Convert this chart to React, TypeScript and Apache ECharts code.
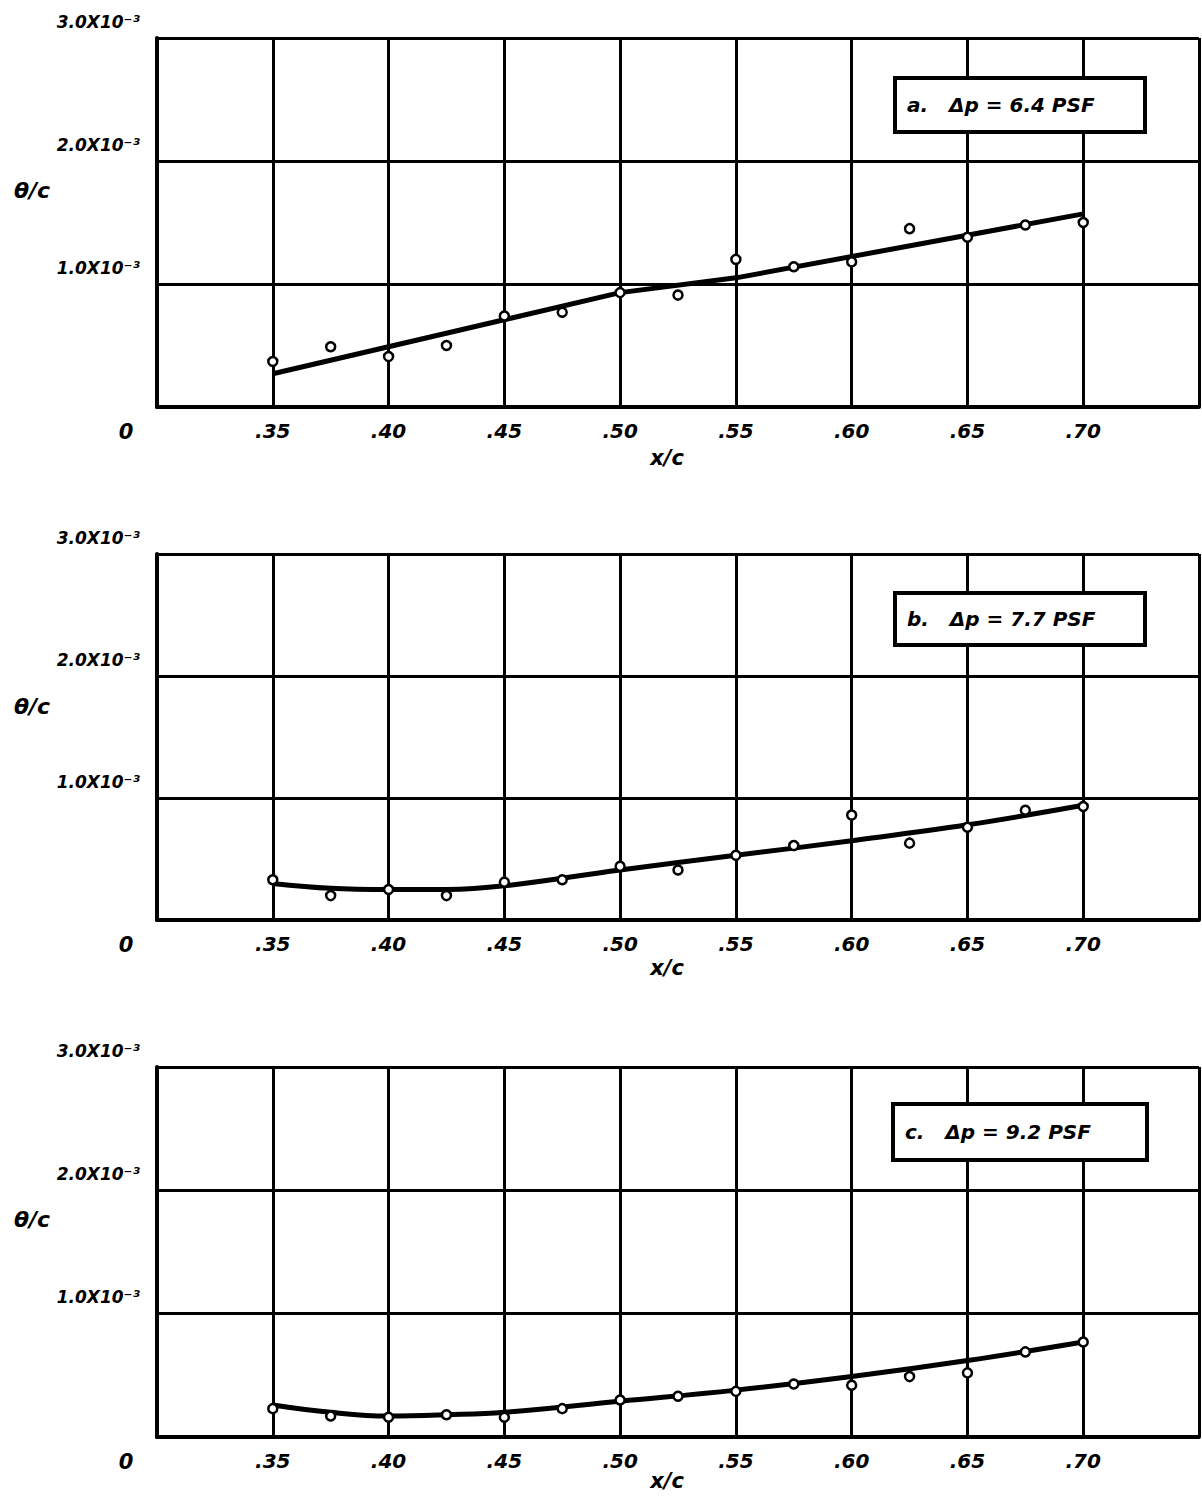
import React, { useEffect, useRef } from "react";
import * as echarts from "echarts";

// x/c stations of the measured points
const xStations = [0.35, 0.375, 0.4, 0.425, 0.45, 0.475, 0.5, 0.525, 0.55, 0.575, 0.6, 0.625, 0.65, 0.675, 0.7];
// theta/c measured (units of 10^-3)
const obsA = [0.37, 0.49, 0.41, 0.5, 0.74, 0.77, 0.93, 0.91, 1.2, 1.14, 1.18, 1.45, 1.38, 1.48, 1.5];
const obsB = [0.33, 0.2, 0.25, 0.2, 0.31, 0.33, 0.44, 0.41, 0.53, 0.61, 0.86, 0.63, 0.76, 0.9, 0.93];
const obsC = [0.23, 0.17, 0.16, 0.18, 0.16, 0.23, 0.3, 0.33, 0.37, 0.43, 0.42, 0.49, 0.52, 0.69, 0.77];

// faired curves
const fitAX = [0.35, 0.5, 0.55, 0.7];
const fitA = [0.27, 0.93, 1.05, 1.57];
const fitX = [0.35, 0.375, 0.4, 0.425, 0.45, 0.5, 0.55, 0.6, 0.65, 0.7];
const fitB = [0.3, 0.26, 0.25, 0.25, 0.28, 0.41, 0.53, 0.65, 0.78, 0.94];
const fitC = [0.26, 0.2, 0.17, 0.18, 0.2, 0.29, 0.38, 0.49, 0.62, 0.77];

const panelLabels = ["a.   \u0394p = 6.4 PSF", "b.   \u0394p = 7.7 PSF", "c.   \u0394p = 9.2 PSF"];
const yTickLabels = ["", "1.0X10\u207B\u00B3", "2.0X10\u207B\u00B3", "3.0X10\u207B\u00B3"];

const FONT = "DejaVu Sans";

export default function App() {
  const ref = useRef<HTMLDivElement>(null);
  useEffect(() => {
    const chart = echarts.init(ref.current!, undefined, { renderer: "svg" });
    const grids = [
      { top: 38, height: 369, xl: 51 },
      { top: 554, height: 366, xl: 48 },
      { top: 1067, height: 370, xl: 44 },
    ];
    const obs = [obsA, obsB, obsC];
    const fits = [
      fitAX.map((x, i) => [x, fitA[i]]),
      fitX.map((x, i) => [x, fitB[i]]),
      fitX.map((x, i) => [x, fitC[i]]),
    ];
    const lineStyle = { color: "#000", width: 3 };
    const textBase = { fontFamily: FONT, fontStyle: "italic", fontWeight: "bold", color: "#000" };

    const graphic: any[] = [];
    const boxes = [
      { x: 895, y: 78, w: 250, h: 54 },
      { x: 895, y: 593, w: 250, h: 52 },
      { x: 893, y: 1104, w: 254, h: 56 },
    ];
    grids.forEach((g, i) => {
      const b = boxes[i];
      graphic.push({
        type: "rect",
        shape: { x: b.x, y: b.y, width: b.w, height: b.h },
        style: { fill: "#fff", stroke: "#000", lineWidth: 4 },
        z: 100,
      });
      graphic.push({
        type: "text",
        x: b.x + 12,
        y: b.y + b.h / 2,
        style: {
          text: panelLabels[i],
          font: `italic bold 20px "${FONT}"`,
          fill: "#000",
          verticalAlign: "middle",
        },
        z: 101,
      });
      const bottom = g.top + g.height;
      graphic.push({
        type: "text",
        x: 126,
        y: bottom + 25,
        style: { text: "0", font: `italic bold 21px "${FONT}"`, fill: "#000", align: "center", verticalAlign: "middle" },
      });
      graphic.push({
        type: "text",
        x: 667,
        y: bottom + g.xl,
        style: { text: "x/c", font: `italic bold 21px "${FONT}"`, fill: "#000", align: "center", verticalAlign: "middle" },
      });
      graphic.push({
        type: "text",
        x: 32,
        y: g.top + 152,
        style: { text: "\u03B8/c", font: `italic bold 22px "${FONT}"`, fill: "#000", align: "center", verticalAlign: "middle" },
      });
    });

    chart.setOption({
      animation: false,
      backgroundColor: "#fff",
      grid: grids.map((g) => ({ left: 157, right: 1, top: g.top, height: g.height })),
      xAxis: grids.map((_, i) => ({
        type: "value",
        gridIndex: i,
        min: 0.3,
        max: 0.75,
        interval: 0.05,
        axisLine: { show: true, lineStyle: { color: "#000", width: 4 } },
        axisTick: { show: false },
        splitLine: { show: true, lineStyle },
        axisLabel: {
          ...textBase,
          fontSize: 20,
          margin: 14,
          formatter: (v: number) => {
            const n = Math.round(v * 100);
            if (n <= 30 || n >= 75) return "";
            return "." + n;
          },
        },
      })),
      yAxis: grids.map((_, i) => ({
        type: "value",
        gridIndex: i,
        min: 0,
        max: 3,
        interval: 1,
        axisLine: { show: true, lineStyle: { color: "#000", width: 4 } },
        axisTick: { show: false },
        splitLine: { show: true, lineStyle },
        axisLabel: {
          ...textBase,
          fontSize: 17,
          margin: 17,
          verticalAlign: "bottom",
          padding: [0, 0, 8, 0],
          formatter: (v: number) => yTickLabels[Math.round(v)] ?? "",
        },
      })),
      series: [
        ...fits.map((d, i) => ({
          type: "line",
          xAxisIndex: i,
          yAxisIndex: i,
          data: d,
          smooth: i === 0 ? false : 0.4,
          symbol: "none",
          lineStyle: { color: "#000", width: 5 },
          z: 3,
        })),
        ...obs.map((o, i) => ({
          type: "scatter",
          xAxisIndex: i,
          yAxisIndex: i,
          data: xStations.map((x, j) => [x, o[j]]),
          symbol: "circle",
          symbolSize: 9,
          itemStyle: { color: "#fff", borderColor: "#000", borderWidth: 2.5, opacity: 1 },
          z: 4,
        })),
      ],
      graphic,
    });
    return () => chart.dispose();
  }, []);
  return (
    <div
      ref={ref}
      style={{ position: "absolute", left: 0, top: 0, width: 1202, height: 1504, background: "#fff" }}
    />
  );
}
